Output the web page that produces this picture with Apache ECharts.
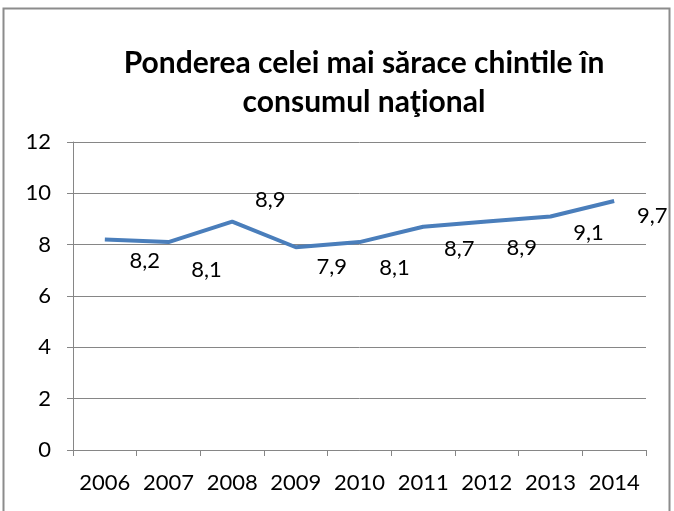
<!DOCTYPE html>
<html>
<head>
<meta charset="utf-8">
<script src="https://cdn.jsdelivr.net/npm/echarts@6/dist/echarts.min.js"></script>
<style>
  html, body { margin: 0; padding: 0; background: #fff; }
  #chart { width: 674px; height: 511px; }
</style>
</head>
<body>
<div id="chart"></div>
<script>
var years = ['2006', '2007', '2008', '2009', '2010', '2011', '2012', '2013', '2014'];
var shares = [8.2, 8.1, 8.9, 7.9, 8.1, 8.7, 8.9, 9.1, 9.7];
var yTicks = [0, 2, 4, 6, 8, 10, 12];

// where Excel put each data label, relative to its point
var labelOffsets = [[40, 21], [38, 28], [38, -22], [36, 20], [35, 26], [36, 22], [35, 26], [38, 16], [38, 15]];

var chart = echarts.init(document.getElementById('chart'));
var font = 'Lato';

var option = {
  animation: false,
  textStyle: { fontFamily: font },
  title: {
    text: 'Ponderea celei mai sărace chintile în\nconsumul naţional',
    left: 359,
    top: 39,
    textAlign: 'center',
    textStyle: { fontFamily: font, fontSize: 30, fontWeight: 'bold', color: '#000', lineHeight: 39 }
  },
  graphic: [{
    type: 'rect',
    shape: { x: 3.5, y: 8.5, width: 666, height: 520 },
    style: { fill: null, stroke: '#8c8c8c', lineWidth: 2 }
  }],
  grid: { left: 73, right: 28, top: 142, bottom: 61, containLabel: false },
  xAxis: {
    type: 'category',
    data: years,
    boundaryGap: true,
    axisLine: { lineStyle: { color: '#868686', width: 1 } },
    axisTick: { show: true, alignWithLabel: false, interval: 0, length: 6, lineStyle: { color: '#868686' } },
    axisLabel: { color: '#000', fontSize: 22, margin: 22, interval: 0, hideOverlap: false, fontFamily: font }
  },
  yAxis: {
    type: 'value',
    min: yTicks[0],
    max: yTicks[yTicks.length - 1],
    interval: 2,
    axisLine: { show: true, lineStyle: { color: '#868686' } },
    axisTick: { show: true, length: 6, lineStyle: { color: '#868686' } },
    axisLabel: { color: '#000', fontSize: 22, margin: 22, fontFamily: font },
    splitLine: { lineStyle: { color: '#868686', width: 1 } }
  },
  series: [{
    type: 'line',
    data: shares.map(function (v, i) {
      return { value: v, label: { offset: labelOffsets[i] } };
    }),
    symbol: 'circle',
    symbolSize: 1,
    showSymbol: true,
    showAllSymbol: true,
    itemStyle: { color: 'rgba(0,0,0,0)', borderWidth: 0 },
    lineStyle: { color: '#4a7ebb', width: 4 },
    label: {
      show: true,
      position: 'inside',
      color: '#000',
      fontSize: 22,
      fontFamily: font,
      formatter: function (p) { return String(p.value).replace('.', ','); }
    }
  }]
};

chart.setOption(option);
</script>
</body>
</html>
